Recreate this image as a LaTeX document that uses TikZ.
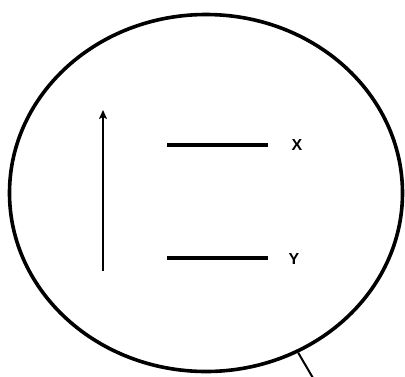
\documentclass[tikz,border=0pt]{standalone}
\usepackage{fontspec}
\setmainfont{Liberation Sans}
\usetikzlibrary{shapes.geometric,arrows.meta}
\begin{document}
\begin{tikzpicture}[x=1pt,y=-1pt,
  lbl/.style={font=\bfseries\fontsize{16}{16}\selectfont, inner sep=0pt},
  level/.style={line width=4pt},
  thinline/.style={line width=2pt}]
\useasboundingbox (0,0) rectangle (405,376);
\node[ellipse, draw, line width=3.6pt, minimum width=393pt, minimum height=357pt, inner sep=0pt] (ell) at (206,193) {};
\coordinate (a0) at (103,271);
\coordinate (a1) at (103,110);
\draw[thinline, -{Stealth[length=9pt,width=8pt,inset=2pt]}] (a0) -- (a1);
\coordinate (x0) at (167,145);
\coordinate (x1) at (268,145);
\coordinate (y0) at (167,258);
\coordinate (y1) at (268,258);
\draw[level] (x0) -- (x1);
\draw[level] (y0) -- (y1);
\node[lbl] (X) at (297,145) {X};
\node[lbl] (Y) at (294,259) {Y};
\coordinate (tail) at (320,390);
\draw[thinline] (ell.-60) -- (tail);
\end{tikzpicture}
\end{document}
